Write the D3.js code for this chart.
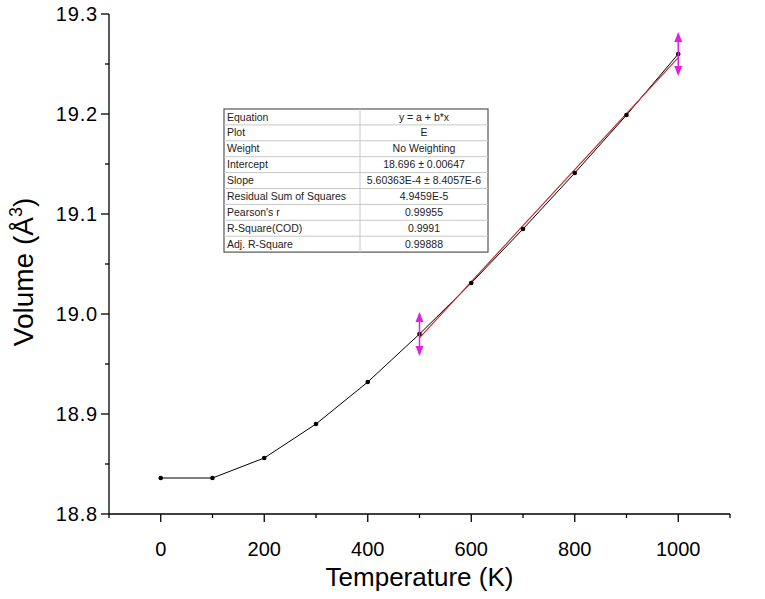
<!DOCTYPE html>
<html>
<head>
<meta charset="utf-8">
<script src="https://cdn.jsdelivr.net/npm/d3@7"></script>
<style>
  body { margin: 0; background: #fff; }
  text { font-family: "Liberation Sans", Arial, sans-serif; }
</style>
</head>
<body>
<script>
// data
var temps = [0, 100, 200, 300, 400, 500, 600, 700, 800, 900, 1000];
var volumes = [18.836, 18.836, 18.856, 18.890, 18.932, 18.980, 19.031, 19.085, 19.141, 19.199, 19.260];
var fitRange = [500, 1000];
var fitIntercept = 18.696;
var fitSlope = 5.60363e-4;
var xTicks = [0, 200, 400, 600, 800, 1000];
var yTicks = [18.8, 18.9, 19.0, 19.1, 19.2, 19.3];
var tableLabels = ["Equation", "Plot", "Weight", "Intercept", "Slope", "Residual Sum of Squares", "Pearson's r", "R-Square(COD)", "Adj. R-Square"];
var tableValues = ["y = a + b*x", "E", "No Weighting", "18.696 \u00b1 0.00647", "5.60363E-4 \u00b1 8.4057E-6", "4.9459E-5", "0.99955", "0.9991", "0.99888"];

var width = 765, height = 599;
var svg = d3.select("body").append("svg").attr("width", width).attr("height", height);

var x = d3.scaleLinear().domain([-100, 1100]).range([109, 730]);
var y = d3.scaleLinear().domain([18.8, 19.3]).range([514, 14]);

// x axis
var xMinor = d3.range(-100, 1101, 100);
var gx = svg.append("g").attr("transform", "translate(0," + y(18.8) + ")");
gx.append("line").attr("x1", x(-100)).attr("x2", x(1100)).attr("stroke", "#000").attr("stroke-width", 1.3);
gx.selectAll("line.tk").data(xMinor).enter().append("line").attr("class", "tk")
  .attr("x1", function (d) { return x(d); }).attr("x2", function (d) { return x(d); })
  .attr("y1", 0).attr("y2", function (d) { return xTicks.indexOf(d) >= 0 ? 8 : 4; })
  .attr("stroke", "#000").attr("stroke-width", 1.3);
gx.selectAll("text").data(xTicks).enter().append("text")
  .attr("x", function (d) { return x(d); }).attr("y", 42)
  .attr("text-anchor", "middle").attr("font-size", 20)
  .text(function (d) { return d; });

// y axis
var yMinor = d3.range(0, 11).map(function (i) { return 18.8 + i * 0.05; });
var gy = svg.append("g").attr("transform", "translate(" + x(-100) + ",0)");
gy.append("line").attr("y1", y(18.8)).attr("y2", y(19.3)).attr("stroke", "#000").attr("stroke-width", 1.3);
gy.selectAll("line.tk").data(yMinor).enter().append("line").attr("class", "tk")
  .attr("y1", function (d) { return y(d); }).attr("y2", function (d) { return y(d); })
  .attr("x1", 0).attr("x2", function (d, i) { return i % 2 === 0 ? -8 : -4; })
  .attr("stroke", "#000").attr("stroke-width", 1.3);
gy.selectAll("text").data(yTicks).enter().append("text")
  .attr("x", -11).attr("y", function (d) { return y(d) + 7; })
  .attr("text-anchor", "end").attr("font-size", 20).attr("letter-spacing", 0.8)
  .text(function (d) { return d.toFixed(1); });

// axis titles
svg.append("text").attr("x", x(500)).attr("y", 586).attr("text-anchor", "middle")
  .attr("font-size", 26).text("Temperature (K)");
var yt = svg.append("text").attr("transform", "translate(33,272) rotate(-90)")
  .attr("text-anchor", "middle").attr("font-size", 28);
yt.append("tspan").text("Volume (\u00c5");
yt.append("tspan").attr("font-size", 18).attr("dy", -11).text("3");
yt.append("tspan").attr("dy", 11).text(")");

// data line and points
var pts = temps.map(function (t, i) { return [t, volumes[i]]; });
var line = d3.line().x(function (d) { return x(d[0]); }).y(function (d) { return y(d[1]); });
svg.append("path").datum(pts).attr("d", line).attr("fill", "none").attr("stroke", "#000").attr("stroke-width", 1);

// fit line
var fitPts = fitRange.map(function (t) { return [t, fitIntercept + fitSlope * t]; });
svg.append("path").datum(fitPts).attr("d", line).attr("fill", "none").attr("stroke", "#c03030").attr("stroke-width", 1.2);

svg.selectAll("circle").data(pts).enter().append("circle")
  .attr("cx", function (d) { return x(d[0]); }).attr("cy", function (d) { return y(d[1]); })
  .attr("r", 2.3).attr("fill", "#000");

// magenta range markers
var mk = svg.selectAll("g.mk").data(fitRange).enter().append("g").attr("class", "mk")
  .attr("transform", function (t) {
    var i = temps.indexOf(t);
    return "translate(" + x(t) + "," + y(volumes[i]) + ")";
  });
mk.append("line").attr("y1", -20).attr("y2", 20).attr("stroke", "#e020e0").attr("stroke-width", 1.5);
mk.append("path").attr("d", "M0,-22 L-4,-12 L4,-12 Z").attr("fill", "#e020e0");
mk.append("path").attr("d", "M0,22 L-4,12 L4,12 Z").attr("fill", "#e020e0");

// table
var tx = 224, ty = 109, tw = 264, rh = 15.9, c1 = 136;
var tb = svg.append("g");
tb.append("rect").attr("x", tx).attr("y", ty).attr("width", tw).attr("height", rh * tableLabels.length)
  .attr("fill", "#fff").attr("stroke", "#555").attr("stroke-width", 1.2);
tb.selectAll("line.row").data(d3.range(1, tableLabels.length)).enter().append("line").attr("class", "row")
  .attr("x1", tx).attr("x2", tx + tw)
  .attr("y1", function (i) { return ty + i * rh; }).attr("y2", function (i) { return ty + i * rh; })
  .attr("stroke", "#c8c8c8").attr("stroke-width", 1);
tb.append("line").attr("x1", tx + c1).attr("x2", tx + c1).attr("y1", ty).attr("y2", ty + rh * tableLabels.length)
  .attr("stroke", "#c8c8c8").attr("stroke-width", 1);
tb.selectAll("text.lab").data(tableLabels).enter().append("text").attr("class", "lab")
  .attr("x", tx + 3).attr("y", function (d, i) { return ty + i * rh + 11.5; })
  .attr("font-size", 10.5).attr("fill", "#222").text(function (d) { return d; });
tb.selectAll("text.val").data(tableValues).enter().append("text").attr("class", "val")
  .attr("x", tx + c1 + (tw - c1) / 2).attr("y", function (d, i) { return ty + i * rh + 11.5; })
  .attr("text-anchor", "middle").attr("font-size", 10.5).attr("fill", "#222").text(function (d) { return d; });
</script>
</body>
</html>
